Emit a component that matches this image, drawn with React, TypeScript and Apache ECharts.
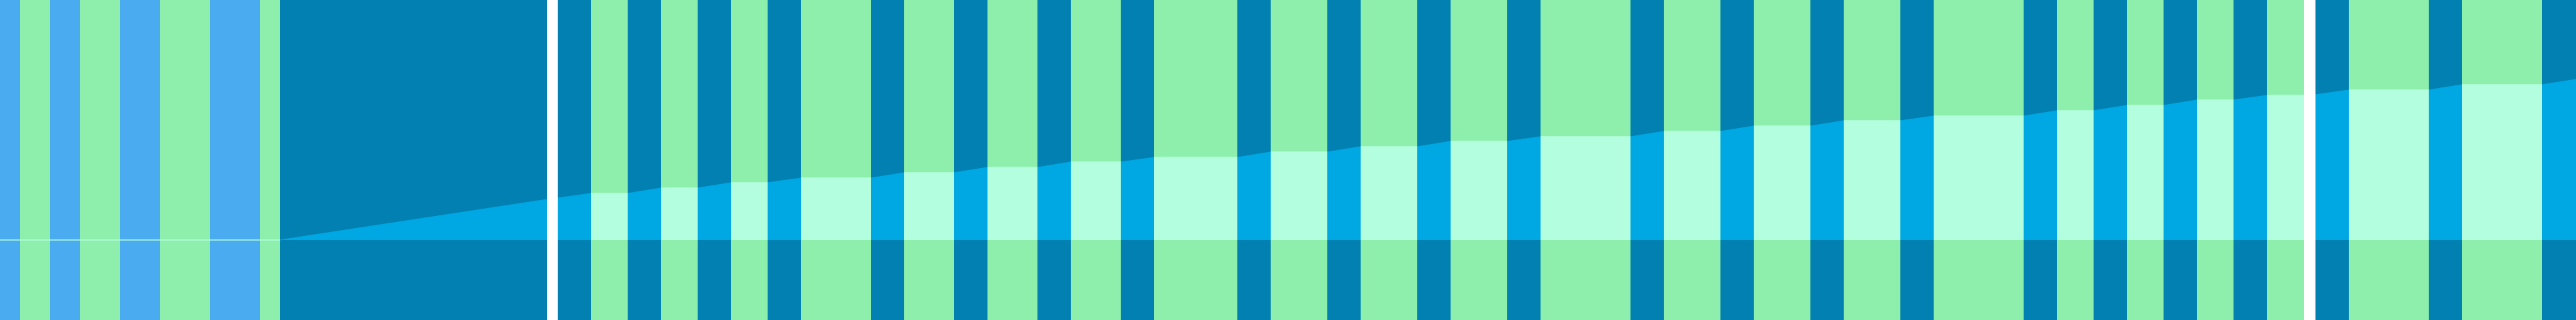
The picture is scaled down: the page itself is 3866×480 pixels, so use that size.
import React, { useEffect, useRef } from 'react';
import * as echarts from 'echarts';

// x ranges of the narrow stripes on the left, alternating blue / green
const leftBands: [number, number][] = [
  [0, 30], [30, 75], [75, 120], [120, 180], [180, 240], [240, 315], [315, 390], [390, 420],
];

// teal background (white gaps are left uncovered)
const tealBands: [number, number][] = [[420, 821], [837, 3458], [3475, 3866]];

// flat parts of the curve (green bands) and their values
const plateaus: [number, number][] = [
  [887, 942], [992, 1047], [1097, 1152], [1202, 1307], [1357, 1432], [1482, 1557],
  [1607, 1682], [1732, 1857], [1907, 1992], [2042, 2127], [2177, 2262], [2312, 2447],
  [2497, 2582], [2632, 2717], [2767, 2852], [2902, 3037], [3087, 3142], [3192, 3247],
  [3297, 3352], [3402, 3458], [3525, 3645], [3695, 3815],
];
const plateauValues = [
  70, 78, 86, 93, 101, 109, 117, 124, 132, 140, 148, 155,
  163, 171, 179, 186, 194, 202, 210, 217, 225, 233,
];

// rising parts that are not plain links between two plateaus
const startFlat: [number, number][] = [[0, 0], [420, 0]];
const firstRamp: [number, number][] = [[420, 0], [821, 61]];
const secondRamp: [number, number][] = [[837, 63], [887, 70]];
const gapRamp: [number, number][] = [[3475, 218], [3525, 225]];
const lastRamp: [number, number][] = [[3815, 233], [3866, 241]];
const gapBefore = 3458; // plateau that ends at a white gap

const BLUE = '#4aabf0';
const GREEN = '#8defab';
const TEAL = '#0280b1';
const MINT = '#b2fede';
const CYAN = '#00a8e3';

const BREAK: any = ['-', '-'];

const App: React.FC = () => {
  const chartRef = useRef<HTMLDivElement>(null);

  useEffect(() => {
    if (!chartRef.current) return;
    document.body.style.margin = '0';

    // background stripes
    const bandData: any[] = [];
    leftBands.forEach((b, i) => {
      bandData.push([
        { xAxis: b[0], itemStyle: { color: i % 2 === 0 ? BLUE : GREEN, opacity: 1 } },
        { xAxis: b[1] },
      ]);
    });
    tealBands.forEach((b) => {
      bandData.push([{ xAxis: b[0], itemStyle: { color: TEAL, opacity: 1 } }, { xAxis: b[1] }]);
    });
    plateaus.forEach((b) => {
      bandData.push([{ xAxis: b[0], itemStyle: { color: GREEN, opacity: 1 } }, { xAxis: b[1] }]);
    });

    // mint: flat parts
    const mintData: any[] = [...startFlat];
    plateaus.forEach((p, i) => {
      mintData.push(BREAK, [p[0], plateauValues[i]], [p[1], plateauValues[i]]);
    });

    // cyan: rising parts between plateaus
    const cyanData: any[] = [...firstRamp, BREAK, ...secondRamp];
    for (let i = 0; i < plateaus.length - 1; i++) {
      if (plateaus[i][1] === gapBefore) continue;
      cyanData.push(BREAK, [plateaus[i][1], plateauValues[i]], [plateaus[i + 1][0], plateauValues[i + 1]]);
    }
    cyanData.push(BREAK, ...gapRamp, BREAK, ...lastRamp);

    const chart = echarts.init(chartRef.current, null, { renderer: 'svg' });
    chart.setOption({
      animation: false,
      grid: { left: 0, right: 0, top: 0, bottom: 0 },
      xAxis: { type: 'value', min: 0, max: 3866, show: false },
      yAxis: { type: 'value', min: -120, max: 360, show: false },
      series: [
        {
          name: 'flat',
          type: 'line',
          data: mintData,
          symbol: 'none',
          lineStyle: { color: MINT, width: 1.5 },
          areaStyle: { color: MINT, opacity: 1 },
          markArea: { silent: true, data: bandData },
        },
        {
          name: 'rise',
          type: 'line',
          data: cyanData,
          symbol: 'none',
          lineStyle: { color: CYAN, width: 1 },
          areaStyle: { color: CYAN, opacity: 1 },
        },
      ],
    });

    return () => {
      chart.dispose();
    };
  }, []);

  return (
    <div
      ref={chartRef}
      style={{ position: 'absolute', left: 0, top: 0, width: '3866px', height: '480px' }}
    />
  );
};

export default App;
